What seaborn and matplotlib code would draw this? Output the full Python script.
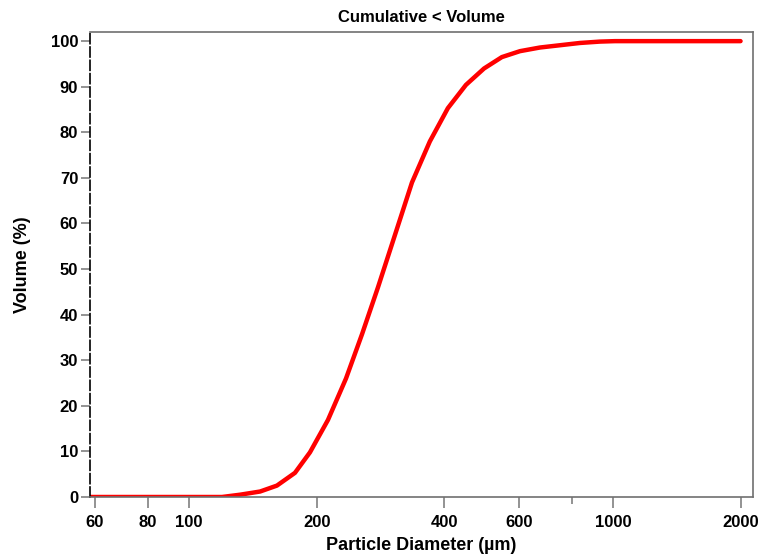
import pandas as pd
import seaborn as sns
import matplotlib.pyplot as plt

# particle size distribution, cumulative volume
diameter_um = [58.5, 80, 100, 119.6, 131.9, 147.1, 161.2, 177.8, 192.9, 212.7,
               234.6, 255.9, 279.1, 306.1, 335.7, 369.9, 408.0, 450.0, 496.5,
               547.0, 603.5, 672.6, 749.9, 836.0, 931.6, 1011, 1500, 2000]
cumulative_pct = [0, 0, 0, 0, 0.5, 1.2, 2.5, 5.3, 9.8, 16.9,
                  26.0, 35.7, 46.0, 57.5, 69.0, 78.0, 85.3, 90.4, 94.0,
                  96.5, 97.8, 98.6, 99.1, 99.6, 99.9, 100, 100, 100]

x_major = [60, 80, 100, 200, 400, 600, 1000, 2000]
x_minor = [800]
y_ticks = list(range(0, 101, 10))

df = pd.DataFrame({'diameter': diameter_um, 'volume': cumulative_pct})

sns.set_theme(style="white")
plt.rcParams['font.family'] = ['Liberation Sans', 'DejaVu Sans']
plt.rcParams['font.weight'] = 'bold'
plt.rcParams['text.color'] = 'black'
plt.rcParams['axes.labelcolor'] = 'black'
plt.rcParams['xtick.labelcolor'] = 'black'
plt.rcParams['ytick.labelcolor'] = 'black'

fig = plt.figure(figsize=(7.62, 5.54), dpi=100)
ax = fig.add_axes([0.1181, 0.1029, 0.8701, 0.8393])

sns.lineplot(data=df, x='diameter', y='volume', color='#ff0000', linewidth=3.2, ax=ax)

ax.set_xscale('log')
ax.set_xlim(58.4, 2140)
ax.set_ylim(0, 102)

ax.set_xticks(x_major)
ax.set_xticklabels([str(v) for v in x_major])
ax.set_xticks(x_minor, minor=True)
ax.set_xticklabels([], minor=True)
ax.set_yticks(y_ticks)

ax.tick_params(axis='x', which='major', length=8, width=1.2, color='#808080',
               direction='out', pad=5, labelsize=12, bottom=True)
ax.tick_params(axis='x', which='minor', length=5, width=1.2, color='#808080',
               direction='out', bottom=True)
ax.tick_params(axis='y', length=6.5, width=1.2, color='#808080',
               direction='out', pad=2, labelsize=12, left=True)
for lbl in ax.get_xticklabels() + ax.get_yticklabels():
    lbl.set_fontweight('bold')

for side in ['top', 'right', 'bottom']:
    ax.spines[side].set_color('#707070')
    ax.spines[side].set_linewidth(1.2)
ax.spines['left'].set_color('black')
ax.spines['left'].set_linewidth(1.2)
ax.spines['left'].set_linestyle((0, (6, 2)))

ax.set_title('Cumulative < Volume', fontsize=12, fontweight='bold', pad=7)
ax.set_xlabel('Particle Diameter (µm)', fontsize=13, fontweight='bold', labelpad=5)
ax.set_ylabel('Volume (%)', fontsize=13, fontweight='bold', labelpad=14)

fig.savefig('out.png', dpi=100)
